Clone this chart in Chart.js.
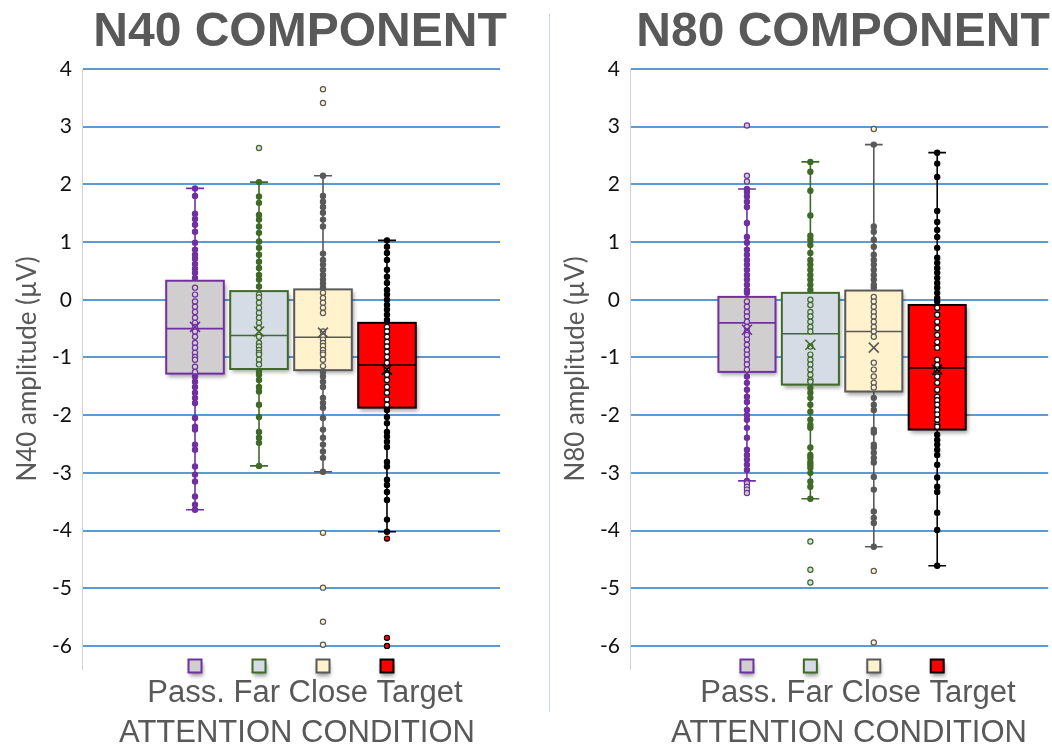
<!DOCTYPE html>
<html>
<head>
<meta charset="utf-8">
<script src="https://cdn.jsdelivr.net/npm/chart.js@4"></script>
<style>
  html, body { margin: 0; padding: 0; background: #ffffff; overflow: hidden; }
  #wrap { position: relative; width: 1052px; height: 746px; overflow: hidden; }
  #leftPanel { position: absolute; left: 0; top: 0; width: 548px; height: 746px; }
  #rightPanel { position: absolute; left: 548px; top: 0; width: 504px; height: 746px; }
  #divider { position: absolute; left: 549px; top: 14px; width: 1px; height: 698px; background: #bdd7ee; }
</style>
</head>
<body>
<div id="wrap">
  <div id="leftPanel"><canvas id="n40" width="548" height="746"></canvas></div>
  <div id="divider"></div>
  <div id="rightPanel"><canvas id="n80" width="504" height="746"></canvas></div>
</div>
<script>
// Attention conditions and their box styles
const conditions = ['Pass.', 'Far', 'Close', 'Target'];
const boxFill = ['#d0cece', '#d6dce5', '#fff2cc', '#ff0000'];
const boxLine = ['#7030a0', '#3f6a28', '#595959', '#000000'];
const yTickValues = [-6, -5, -4, -3, -2, -1, 0, 1, 2, 3, 4];

// N40 amplitudes (µV) per condition
const n40Pass = [1.93, 1.80, 1.49, 1.40, 1.30, 1.18, 0.99, 0.87, 0.78, 0.71, 0.62, 0.54, 0.47, 0.38,
  0.21, 0.09, -0.03, -0.12, -0.21, -0.31, -0.40, -0.47, -0.55, -0.64, -0.75, -0.83, -0.92, -0.99, -1.04, -1.16, -1.25,
  -1.33, -1.42, -1.51, -1.61, -1.70, -1.79, -2.05, -2.20, -2.25, -2.51, -2.60, -2.89, -3.03, -3.15, -3.41, -3.55, -3.64];
const n40Far = [2.63, 2.04, 1.79, 1.68, 1.47, 1.39, 1.27, 1.16, 1.01, 0.90, 0.78, 0.66, 0.55, 0.43, 0.35, 0.23,
  0.09, 0.04, -0.05, -0.14, -0.23, -0.31, -0.40, -0.49, -0.64, -0.75, -0.81, -0.87, -0.92, -0.95, -1.04, -1.12,
  -1.24, -1.30, -1.39, -1.51, -1.59, -1.82, -2.03, -2.29, -2.39, -2.48, -2.88];
const n40Close = [3.65, 3.41, 2.15, 1.80, 1.70, 1.61, 1.51, 1.39, 1.27, 0.80, 0.69, 0.61, 0.52, 0.43, 0.35, 0.28, 0.21,
  0.12, 0.03, -0.05, -0.14, -0.23, -0.55, -0.64, -0.69, -0.75, -0.80, -0.87, -0.92, -0.95, -1.04, -1.15,
  -1.25, -1.33, -1.42, -1.51, -1.70, -1.79, -1.87, -2.05, -2.25, -2.39, -2.51, -2.63, -2.74, -2.98,
  -4.04, -4.99, -5.58, -5.98];
const n40Target = [1.03, 0.92, 0.81, 0.69, 0.52, 0.40, 0.29, 0.17, 0.09, 0.00, -0.09, -0.17, -0.26, -0.35,
  -0.47, -0.55, -0.64, -0.73, -0.81, -0.90, -0.99, -1.09, -1.21, -1.30, -1.39, -1.51, -1.61, -1.73, -1.82,
  -1.91, -2.03, -2.14, -2.29, -2.37, -2.46, -2.55, -2.81, -2.89, -3.12, -3.21, -3.33, -3.47, -3.81, -4.02,
  -4.14, -5.86, -6.00];

// N40 box summaries
const n40Q1 = [-1.28, -1.20, -1.22, -1.87];
const n40Median = [-0.50, -0.62, -0.65, -1.13];
const n40Q3 = [0.33, 0.15, 0.18, -0.40];
const n40Mean = [-0.47, -0.55, -0.57, -1.21];
const n40Low = [-3.64, -2.88, -2.98, -4.02];
const n40High = [1.93, 2.04, 2.15, 1.03];

// N80 amplitudes (µV) per condition
const n80Pass = [3.02, 2.15, 2.05, 1.92, 1.87, 1.79, 1.70, 1.61, 1.33, 1.09, 0.99, 0.87, 0.78, 0.69, 0.61, 0.52, 0.43, 0.35, 0.26, 0.17, 0.12,
  -0.03, -0.12, -0.21, -0.29, -0.38, -0.47, -0.55, -0.61, -0.69, -0.78, -0.87, -0.95, -1.04, -1.12, -1.21,
  -1.33, -1.44, -1.56, -1.68, -1.77, -1.91, -2.00, -2.08, -2.22, -2.39, -2.60, -2.69, -2.77, -2.86, -2.95, -3.14,
  -3.18, -3.24, -3.29, -3.35];
const n80Far = [2.39, 2.22, 1.89, 1.46, 1.11, 1.04, 0.95, 0.81, 0.69, 0.61, 0.52, 0.43, 0.35, 0.26, 0.17,
  0.00, -0.09, -0.21, -0.29, -0.38, -0.47, -0.55, -0.81, -0.95, -1.04, -1.12, -1.21, -1.30, -1.39, -1.42,
  -1.53, -1.61, -1.70, -1.82, -1.94, -2.08, -2.17, -2.22, -2.56, -2.69, -2.74, -2.81, -2.86, -2.91, -3.00, -3.15, -3.24, -3.45,
  -4.19, -4.68, -4.90];
const n80Close = [2.96, 2.69, 1.27, 1.18, 1.04, 0.92, 0.78, 0.69, 0.61, 0.52, 0.43, 0.35, 0.26, 0.21,
  0.05, -0.03, -0.12, -0.21, -0.29, -0.38, -0.47, -0.55, -0.64, -1.09, -1.21, -1.33, -1.44, -1.52,
  -1.70, -1.82, -1.91, -2.25, -2.30, -2.51, -2.56, -2.65, -2.74, -2.82, -3.07, -3.29, -3.67, -3.78, -3.87, -4.28,
  -4.70, -5.94];
const n80Target = [2.55, 2.36, 2.13, 1.54, 1.35, 1.21, 1.09, 0.90, 0.73, 0.64, 0.55, 0.47, 0.38, 0.29, 0.21, 0.12, 0.03, -0.03,
  -0.14, -0.26, -0.38, -0.49, -0.61, -0.73, -0.83, -1.04, -1.13, -1.21, -1.33, -1.44, -1.56, -1.68, -1.74, -1.82, -1.91, -1.99, -2.08, -2.17, -2.20,
  -2.34, -2.43, -2.51, -2.60, -2.69, -2.86, -3.08, -3.24, -3.33, -3.69, -3.99, -4.61];

// N80 box summaries
const n80Q1 = [-1.25, -1.47, -1.59, -2.25];
const n80Median = [-0.40, -0.59, -0.55, -1.18];
const n80Q3 = [0.05, 0.12, 0.16, -0.09];
const n80Mean = [-0.52, -0.78, -0.83, -1.21];
const n80Low = [-3.14, -3.45, -4.28, -4.61];
const n80High = [1.92, 2.39, 2.69, 2.55];

const TITLE_COLOR = '#595959';

// Boxes, whiskers, medians, means and the key squares, placed through the chart scales
const boxPlotPlugin = {
  id: 'boxPlot',
  beforeDatasetsDraw(chart, args, opts) {
    const { ctx } = chart;
    const x = chart.scales.x, y = chart.scales.y;
    const s = opts.stats;
    for (let i = 0; i < conditions.length; i++) {
      const c = i + 1;
      const cx = x.getPixelForValue(c);
      const left = x.getPixelForValue(c - 0.45), right = x.getPixelForValue(c + 0.45);
      const capL = x.getPixelForValue(c - 0.14), capR = x.getPixelForValue(c + 0.14);
      const yHi = y.getPixelForValue(s.high[i]), yLo = y.getPixelForValue(s.low[i]);
      const yQ3 = y.getPixelForValue(s.q3[i]), yQ1 = y.getPixelForValue(s.q1[i]);
      const yMed = y.getPixelForValue(s.median[i]);
      ctx.save();
      ctx.strokeStyle = boxLine[i];
      ctx.lineWidth = 1.6;
      // whisker stem and caps
      ctx.beginPath();
      ctx.moveTo(cx, yHi); ctx.lineTo(cx, yQ3);
      ctx.moveTo(cx, yQ1); ctx.lineTo(cx, yLo);
      ctx.moveTo(capL, yHi); ctx.lineTo(capR, yHi);
      ctx.moveTo(capL, yLo); ctx.lineTo(capR, yLo);
      ctx.stroke();
      // box with a soft drop shadow
      ctx.shadowColor = 'rgba(0,0,0,0.35)';
      ctx.shadowBlur = 4;
      ctx.shadowOffsetX = 2;
      ctx.shadowOffsetY = 3;
      ctx.fillStyle = boxFill[i];
      ctx.fillRect(left, yQ3, right - left, yQ1 - yQ3);
      ctx.shadowColor = 'transparent';
      ctx.lineWidth = 2;
      ctx.strokeRect(left, yQ3, right - left, yQ1 - yQ3);
      // median
      ctx.lineWidth = 1.6;
      ctx.beginPath();
      ctx.moveTo(left, yMed); ctx.lineTo(right, yMed);
      ctx.stroke();
      ctx.restore();
    }
  },
  afterDatasetsDraw(chart, args, opts) {
    const { ctx, chartArea } = chart;
    const x = chart.scales.x, y = chart.scales.y;
    const s = opts.stats;
    for (let i = 0; i < conditions.length; i++) {
      const cx = x.getPixelForValue(i + 1);
      const ym = y.getPixelForValue(s.mean[i]);
      ctx.save();
      ctx.strokeStyle = boxLine[i];
      ctx.lineWidth = 1.6;
      ctx.beginPath();
      ctx.moveTo(cx - 5, ym - 5); ctx.lineTo(cx + 5, ym + 5);
      ctx.moveTo(cx + 5, ym - 5); ctx.lineTo(cx - 5, ym + 5);
      ctx.stroke();
      // key square under each box
      const sq = 13, sy = chartArea.bottom - 3;
      ctx.shadowColor = 'rgba(0,0,0,0.4)';
      ctx.shadowBlur = 4;
      ctx.shadowOffsetX = 1;
      ctx.shadowOffsetY = 3;
      ctx.fillStyle = boxFill[i];
      ctx.fillRect(cx - sq / 2, sy - sq / 2, sq, sq);
      ctx.shadowColor = 'transparent';
      ctx.lineWidth = 2;
      ctx.strokeRect(cx - sq / 2, sy - sq / 2, sq, sq);
      ctx.restore();
    }
  }
};

// Panel heading and the condition / axis caption under the plot
const panelTextPlugin = {
  id: 'panelText',
  afterDraw(chart, args, opts) {
    const { ctx } = chart;
    ctx.save();
    ctx.fillStyle = TITLE_COLOR;
    ctx.textAlign = 'center';
    ctx.textBaseline = 'middle';
    ctx.font = 'bold 48px "Liberation Sans", Arial, sans-serif';
    ctx.fillText(opts.title, opts.titleX, 33);
    ctx.font = '31px "Liberation Sans", Arial, sans-serif';
    ctx.fillText(opts.line1, opts.line1X, 693);
    ctx.fillText(opts.line2, opts.line2X, 733);
    ctx.restore();
  }
};

function pointData(values, i) {
  return values.map(v => ({ x: i + 1, y: v }));
}

function makePanel(canvasId, series, stats, axisTitle, xMin, xMax, padRight, text) {
  const datasets = series.map((vals, i) => ({
    label: conditions[i],
    data: pointData(vals, i),
    pointRadius: 2.6,
    pointHoverRadius: 2.6,
    pointBorderWidth: 1.2,
    pointBorderColor: boxLine[i],
    pointBackgroundColor: (ctx) => {
      const v = ctx.raw ? ctx.raw.y : 0;
      const inside = v >= stats.q1[i] && v <= stats.q3[i];
      const outlier = v > stats.high[i] || v < stats.low[i];
      return (inside || outlier) ? (i === 3 && inside ? '#ffffff' : boxFill[i]) : boxLine[i];
    }
  }));
  return new Chart(document.getElementById(canvasId), {
    type: 'scatter',
    data: { datasets },
    plugins: [boxPlotPlugin, panelTextPlugin],
    options: {
      responsive: false,
      animation: false,
      devicePixelRatio: 1,
      layout: { padding: { top: 69, bottom: 77, left: 0, right: padRight } },
      plugins: {
        legend: { display: false },
        tooltip: { enabled: false },
        boxPlot: { stats },
        panelText: text
      },
      scales: {
        x: { type: 'linear', min: xMin, max: xMax, display: false },
        y: {
          type: 'linear',
          min: -6.4,
          max: 4,
          afterFit(scale) { scale.width = 82; },
          afterBuildTicks(scale) { scale.ticks = yTickValues.map(v => ({ value: v })); },
          grid: { color: '#5b9bd5', lineWidth: 2, drawTicks: false },
          border: { display: true, color: '#d0d0d0', width: 1 },
          ticks: {
            padding: 10,
            color: '#111111',
            font: { family: 'Lato', size: 21 },
            callback: (v) => String(v)
          },
          title: {
            display: true,
            text: axisTitle,
            color: TITLE_COLOR,
            font: { family: 'Lato', size: 26 },
            padding: { top: 12, bottom: 0 }
          }
        }
      }
    }
  });
}

makePanel('n40', [n40Pass, n40Far, n40Close, n40Target],
  { q1: n40Q1, median: n40Median, q3: n40Q3, mean: n40Mean, low: n40Low, high: n40High },
  'N40 amplitude (µV)', -0.766, 5.766, 48,
  { title: 'N40 COMPONENT', titleX: 300, line1: 'Pass. Far Close Target', line1X: 305, line2: 'ATTENTION CONDITION', line2X: 297 });

makePanel('n80', [n80Pass, n80Far, n80Close, n80Target],
  { q1: n80Q1, median: n80Median, q3: n80Q3, mean: n80Mean, low: n80Low, high: n80High },
  'N80 amplitude (µV)', -0.844, 5.75, 0,
  { title: 'N80 COMPONENT', titleX: 295, line1: 'Pass. Far Close Target', line1X: 310, line2: 'ATTENTION CONDITION', line2X: 301 });
</script>
</body>
</html>
